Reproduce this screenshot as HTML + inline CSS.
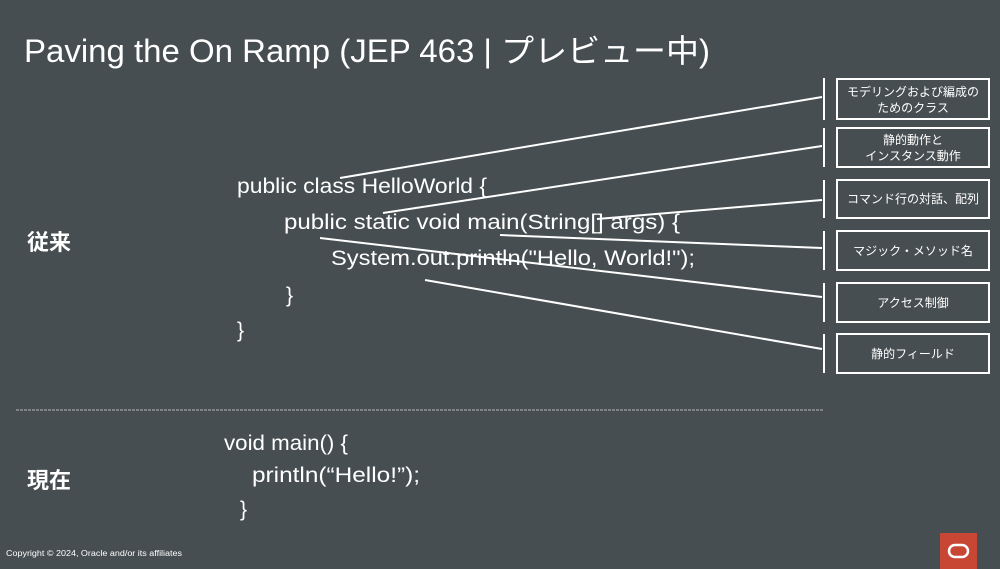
<!DOCTYPE html>
<html><head><meta charset="utf-8"><style>
html,body{margin:0;padding:0;background:#464e51;}
svg{display:block}
text{font-family:"Liberation Sans","Noto Sans CJK JP",sans-serif;fill:#fff}
</style></head><body>
<svg width="1000" height="569" viewBox="0 0 1000 569" xmlns="http://www.w3.org/2000/svg">
<rect width="1000" height="569" fill="#464e51"/>
<text x="24" y="62" font-size="32" textLength="686" lengthAdjust="spacingAndGlyphs">Paving the On Ramp (JEP 463 | プレビュー中)</text>

<text x="27" y="250" font-size="22" font-weight="bold">従来</text>
<text x="27" y="488" font-size="22" font-weight="bold">現在</text>

<g font-size="21">
<text x="237" y="193" textLength="250" lengthAdjust="spacingAndGlyphs">public class HelloWorld {</text>
<text x="284" y="229" textLength="396" lengthAdjust="spacingAndGlyphs">public static void main(String[] args) {</text>
<text x="331" y="265" textLength="364" lengthAdjust="spacingAndGlyphs">System.out.println("Hello, World!");</text>
<text x="286" y="302">}</text>
<text x="237" y="337">}</text>
<text x="224" y="450" textLength="124" lengthAdjust="spacingAndGlyphs">void main() {</text>
<text x="252" y="482" textLength="168" lengthAdjust="spacingAndGlyphs">println(“Hello!”);</text>
<text x="240" y="516">}</text>
</g>

<g stroke="#fff" stroke-width="2" fill="none">
<line x1="340" y1="178" x2="822" y2="97"/>
<line x1="383" y1="213" x2="822" y2="146"/>
<line x1="597" y1="219" x2="822" y2="200"/>
<line x1="500" y1="235" x2="822" y2="248"/>
<line x1="320" y1="238" x2="822" y2="297"/>
<line x1="425" y1="280" x2="822" y2="349"/>
<line x1="824" y1="78" x2="824" y2="120"/>
<line x1="824" y1="128" x2="824" y2="167"/>
<line x1="824" y1="180" x2="824" y2="218"/>
<line x1="824" y1="231" x2="824" y2="270"/>
<line x1="824" y1="283" x2="824" y2="322"/>
<line x1="824" y1="334" x2="824" y2="373"/>
<rect x="837" y="79" width="152" height="40"/>
<rect x="837" y="128" width="152" height="39"/>
<rect x="837" y="180" width="152" height="38"/>
<rect x="837" y="231" width="152" height="39"/>
<rect x="837" y="283" width="152" height="39"/>
<rect x="837" y="334" width="152" height="39"/>
</g>
<g font-size="12" text-anchor="middle">
<text x="913" y="96">モデリングおよび編成の</text>
<text x="913" y="112">ためのクラス</text>
<text x="913" y="144">静的動作と</text>
<text x="913" y="160">インスタンス動作</text>
<text x="913" y="203">コマンド行の対話、配列</text>
<text x="913" y="255">マジック・メソッド名</text>
<text x="913" y="307">アクセス制御</text>
<text x="913" y="358">静的フィールド</text>
</g>

<line x1="16" y1="410" x2="823" y2="410" stroke="#bbb" stroke-width="1" stroke-dasharray="3,1"/>

<text x="6" y="556" font-size="8" textLength="176" lengthAdjust="spacingAndGlyphs">Copyright © 2024, Oracle and/or its affiliates</text>
<rect x="940" y="533" width="37" height="36" fill="#c74634"/>
<rect x="949" y="545" width="19" height="12" rx="6" fill="none" stroke="#fff" stroke-width="2.5"/>
</svg>
</body></html>
